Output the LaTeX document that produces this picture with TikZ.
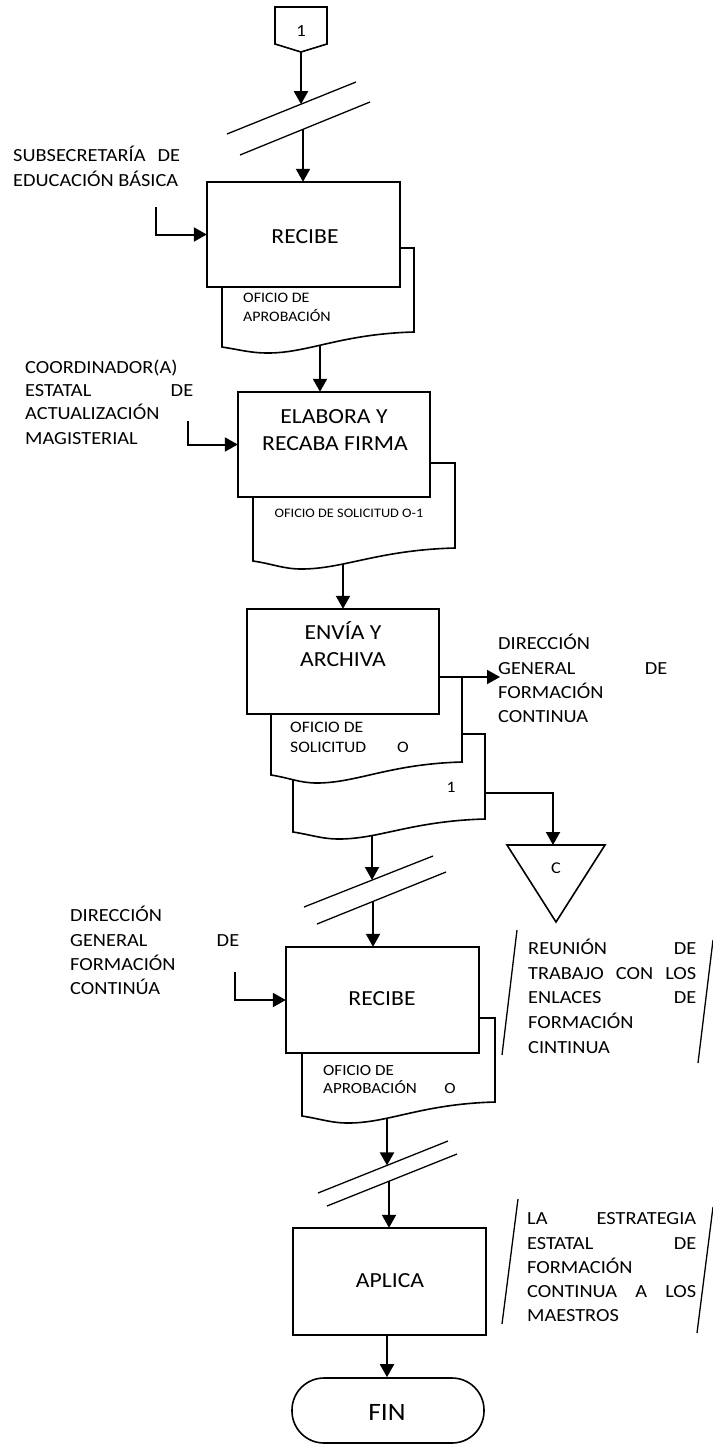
\documentclass[tikz,border=0pt]{standalone}
\usepackage{fontspec}
\setmainfont{Carlito}[FakeStretch=1.1]
\usetikzlibrary{arrows.meta}
\newcommand\jst[2]{\makebox[#1][s]{#2}}
\newcommand\docshape[6]{%
  \filldraw[shp, fill=white] (#1,#2) -- (#1,#4)
    .. controls ({#1+0.1*(#3-#1)},{#4+3}) and ({#1+0.15*(#3-#1)},#5) .. ({#1+0.24*(#3-#1)},#5)
    .. controls ({#1+0.45*(#3-#1)},#5) and ({#1+0.62*(#3-#1)},{#6+2}) .. (#3,#6)
    -- (#3,#2) -- cycle;}
\begin{document}
\begin{tikzpicture}[x=1pt,y=-1pt,
  shp/.style={line width=1.6pt, line join=miter},
  box/.style={draw, line width=1.6pt, fill=white, inner sep=0pt, anchor=center},
  arr/.style={line width=2pt, -{Triangle[length=13pt,width=14pt]}},
  brk/.style={line width=1.3pt},
  lbl/.style={inner sep=0pt, anchor=base west, font=\fontsize{18.5}{22}\selectfont},
  btx/.style={inner sep=0pt, anchor=base, font=\fontsize{21.5}{26}\selectfont},
  dtx/.style={inner sep=0pt, anchor=base west}]
\useasboundingbox (0,0) rectangle (712,1445);

% off-page connector 1
\draw[shp] (275,7) -- (327,7) -- (327,44) -- (301,52) -- (275,44) -- cycle;
\coordinate (c1) at (301,52);
\node[inner sep=0pt, anchor=base, font=\fontsize{17}{17}\selectfont] (p1t) at (301,36.5) {1};

% break lines
\draw[brk] (227,134) -- (356,82);
\draw[brk] (240,155) -- (370,102);
\coordinate (bk1a) at (301,104.2);
\coordinate (bk1b) at (303,129.3);
\draw[brk] (304,907) -- (433,856);
\draw[brk] (317,924) -- (446,872);
\coordinate (bk2a) at (372,880);
\coordinate (bk2b) at (373,901.4);
\draw[brk] (318,1193) -- (448,1141);
\draw[brk] (327,1206) -- (457,1154);
\coordinate (bk3a) at (387,1165.4);
\coordinate (bk3b) at (389,1181.2);

% process boxes (placed first so that connectors can refer to them)
\path node[minimum width=193pt, minimum height=105pt, inner sep=0pt] (b1) at (303.5,234.5) {}
      node[minimum width=192pt, minimum height=105pt, inner sep=0pt] (b2) at (334,444.5) {}
      node[minimum width=192pt, minimum height=105pt, inner sep=0pt] (b3) at (343,661.5) {}
      node[minimum width=193pt, minimum height=106pt, inner sep=0pt] (b4) at (382.5,1000) {}
      node[minimum width=193pt, minimum height=107pt, inner sep=0pt] (b5) at (389.5,1281.5) {};

% connectors leaving the documents (start inside them, drawn beneath)
\coordinate (dA) at (320,300);
\coordinate (dB) at (343,520);
\coordinate (dC) at (372,800);
\coordinate (dD) at (387,1090);
\draw[arr] (dA) -- (dA |- b2.north);
\draw[arr] (dB) -- (dB |- b3.north);
\draw[arr] (dC) -- (bk2a);
\draw[arr] (dD) -- (bk3a);

% documents
\docshape{222}{248}{414}{347}{353}{332}
\docshape{253}{463}{455}{561}{569}{548}
\docshape{293}{734}{485}{832}{839}{819}
\docshape{271}{677}{462}{775}{783}{762}
\docshape{302}{1018}{495}{1116}{1123}{1102}

% process boxes drawn
\draw[shp, fill=white] (b1.south west) rectangle (b1.north east);
\draw[shp, fill=white] (b2.south west) rectangle (b2.north east);
\draw[shp, fill=white] (b3.south west) rectangle (b3.north east);
\draw[shp, fill=white] (b4.south west) rectangle (b4.north east);
\draw[shp, fill=white] (b5.south west) rectangle (b5.north east);
\node[draw, line width=1.6pt, rounded corners=32pt, minimum width=192pt, minimum height=65pt, inner sep=0pt] (fin) at (388,1410.5) {};

% triangle (archive)
\draw[shp] (507,845) -- (605,845) -- (556,922) -- cycle;
\coordinate (tri) at (553,845);
\node[inner sep=0pt, anchor=center, font=\fontsize{16.5}{16.5}\selectfont] (tc) at (556,868) {C};

% box texts
\node[btx] (t1) at (305,243) {RECIBE};
\node[btx] (t2a) at (334,423) {ELABORA Y};
\node[btx] (t2b) at (335,450) {RECABA FIRMA};
\node[btx] (t3a) at (343,639) {ENVÍA Y};
\node[btx] (t3b) at (343,666) {ARCHIVA};
\node[btx] (t4) at (382,1005) {RECIBE};
\node[btx] (t5) at (390,1287) {APLICA};
\node[inner sep=0pt, anchor=center, font=\fontsize{25}{25}\selectfont] (tf) at (387,1412) {FIN};

% document texts
\node[dtx, font=\fontsize{14.5}{14.5}\selectfont] (da1) at (243,302) {OFICIO DE};
\node[dtx, font=\fontsize{14.5}{14.5}\selectfont] (da2) at (243,321) {APROBACIÓN};
\node[inner sep=0pt, anchor=base, font=\fontsize{13}{13}\selectfont] (db1) at (349,517) {OFICIO DE SOLICITUD O-1};
\node[dtx, font=\fontsize{16}{16}\selectfont] (dc1) at (290,732) {OFICIO DE};
\node[dtx, font=\fontsize{16}{16}\selectfont] (dc2) at (290,752) {SOLICITUD};
\node[inner sep=0pt, anchor=base, font=\fontsize{16}{16}\selectfont] (dc3) at (403,752) {O};
\node[inner sep=0pt, anchor=base, font=\fontsize{16}{16}\selectfont] (dc4) at (451,792) {1};
\node[dtx, font=\fontsize{15.5}{15.5}\selectfont] (dd1) at (323,1075) {OFICIO DE};
\node[dtx, font=\fontsize{15.5}{15.5}\selectfont] (dd2) at (323,1093) {APROBACIÓN};
\node[inner sep=0pt, anchor=base, font=\fontsize{15.5}{15.5}\selectfont] (dd3) at (450,1093) {O};

% side labels
\node[lbl] (s1) at (13,161) {\jst{167pt}{SUBSECRETARÍA DE}};
\node[lbl] (s2) at (13,186) {EDUCACIÓN BÁSICA};
\node[lbl] (k1) at (25,373) {COORDINADOR(A)};
\node[lbl] (k2) at (25,396) {\jst{168pt}{ESTATAL DE}};
\node[lbl] (k3) at (25,419) {ACTUALIZACIÓN};
\node[lbl] (k4) at (25,444) {MAGISTERIAL};
\node[lbl] (g1) at (498,649) {DIRECCIÓN};
\node[lbl] (g2) at (498,674) {\jst{169pt}{GENERAL DE}};
\node[lbl] (g3) at (498,698) {FORMACIÓN};
\node[lbl] (g4) at (498,722) {CONTINUA};
\node[lbl] (h1) at (70,921) {DIRECCIÓN};
\node[lbl] (h2) at (70,946) {\jst{169pt}{GENERAL DE}};
\node[lbl] (h3) at (70,970) {FORMACIÓN};
\node[lbl] (h4) at (70,994) {CONTINÚA};

% annotations
\draw[brk] (517,930) -- (502,1055);
\draw[brk] (713,940) -- (698,1063);
\node[lbl] (r1) at (528,954) {\jst{168pt}{REUNIÓN DE}};
\node[lbl] (r2) at (528,979) {\jst{168pt}{TRABAJO CON LOS}};
\node[lbl] (r3) at (528,1003) {\jst{168pt}{ENLACES DE}};
\node[lbl] (r4) at (528,1028) {FORMACIÓN};
\node[lbl] (r5) at (528,1053) {CINTINUA};
\draw[brk] (518,1199) -- (502,1324);
\draw[brk] (713,1207) -- (697,1333);
\node[lbl] (a1) at (527,1224) {\jst{169pt}{LA ESTRATEGIA}};
\node[lbl] (a2) at (527,1249) {\jst{169pt}{ESTATAL DE}};
\node[lbl] (a3) at (527,1273) {FORMACIÓN};
\node[lbl] (a4) at (527,1297) {\jst{169pt}{CONTINUA A LOS}};
\node[lbl] (a5) at (527,1321) {MAESTROS};

% other connectors
\coordinate (in1) at (156,207);
\coordinate (in2) at (188,421);
\coordinate (in3) at (235,972);
\coordinate (dCr) at (485,793);
\coordinate (o3) at (500,677);

\draw[arr] (c1) -- (bk1a);
\draw[arr] (bk1b) -- (bk1b |- b1.north);
\draw[arr] (in1) |- (b1.west);
\draw[arr] (in2) |- (b2.west);
\draw[arr] (o3 -| b3.east) -- (o3);
\draw[arr] (dCr) -| (tri);
\draw[arr] (bk2b) -- (bk2b |- b4.north);
\draw[arr] (in3) |- (b4.west);
\draw[arr] (bk3b) -- (bk3b |- b5.north);
\draw[arr] (b5.south -| 387,0) -- (fin.north -| 387,0);
\end{tikzpicture}
\end{document}
